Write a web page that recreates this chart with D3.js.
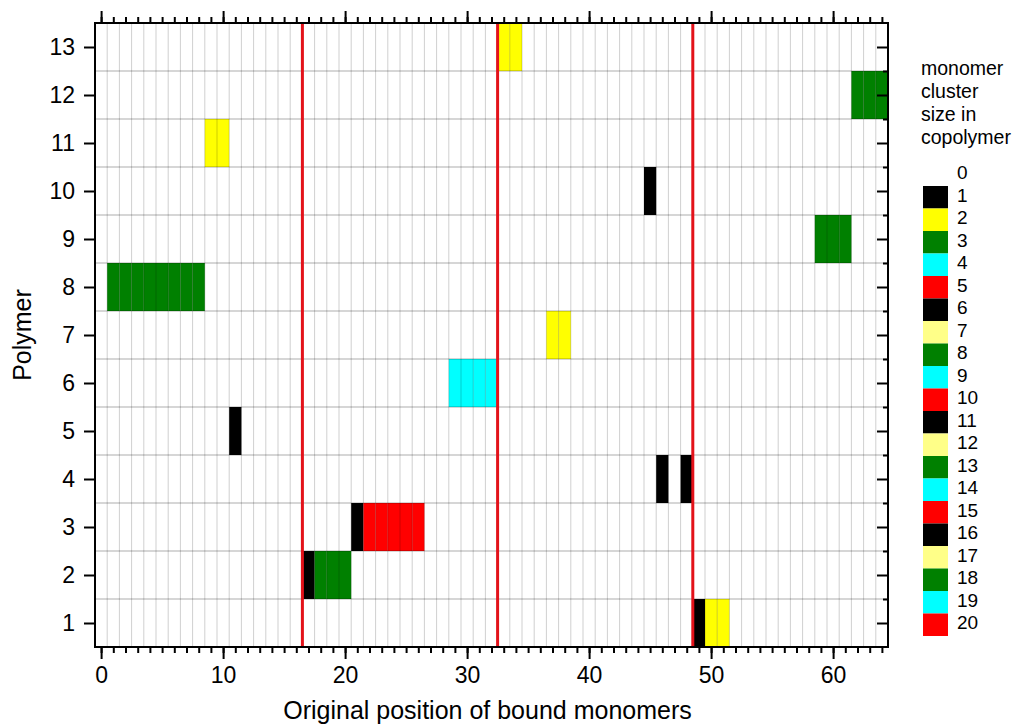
<!DOCTYPE html>
<html>
<head>
<meta charset="utf-8">
<script src="https://cdn.jsdelivr.net/npm/d3@7"></script>
<style>
  html, body { margin: 0; padding: 0; background: #ffffff; }
  svg { display: block; font-family: "Liberation Sans", Arial, sans-serif; }
</style>
</head>
<body>
<svg id="chart" width="1016" height="724"></svg>
<script>
// Bound monomer clusters: polymer row, first position, cluster length
const clusterPolymer = [13, 12, 11, 10, 9, 8, 7, 6, 5, 4, 4, 3, 3, 2, 2, 1, 1];
const clusterStart   = [33, 62, 9, 45, 59, 1, 37, 29, 11, 46, 48, 21, 22, 17, 18, 49, 50];
const clusterSize    = [2, 3, 2, 1, 3, 8, 2, 4, 1, 1, 1, 1, 5, 1, 3, 1, 2];

// Block boundaries marked in red
const blockBoundaries = [16.5, 32.5, 48.5];

// Axis ticks
const polymerTicks = [1, 2, 3, 4, 5, 6, 7, 8, 9, 10, 11, 12, 13];
const positionMajorTicks = [0, 10, 20, 30, 40, 50, 60];

// Colour legend: cluster size -> colour
const legendLabels = ["0", "1", "2", "3", "4", "5", "6", "7", "8", "9", "10",
  "11", "12", "13", "14", "15", "16", "17", "18", "19", "20"];
const legendColors = ["#ffffff", "#000000", "#ffff00", "#008000", "#00ffff", "#ff0000",
  "#000000", "#ffff88", "#008000", "#00ffff", "#ff0000",
  "#000000", "#ffff88", "#008000", "#00ffff", "#ff0000",
  "#000000", "#ffff88", "#008000", "#00ffff", "#ff0000"];
const legendTitle = ["monomer", "cluster", "size in", "copolymer"];

const svg = d3.select("#chart");
const plot = { left: 95, right: 888, top: 23, bottom: 647 };

const x = d3.scaleLinear().domain([-0.5, 64.5]).range([plot.left, plot.right]);
const y = d3.scaleLinear().domain([0.5, 13.5]).range([plot.bottom, plot.top]);
const color = d3.scaleOrdinal().domain(legendLabels).range(legendColors);

// Expand clusters into single cells, each carrying its cluster size
const cells = [];
clusterPolymer.forEach((p, i) => {
  for (let k = 0; k < clusterSize[i]; k++) {
    cells.push({ polymer: p, position: clusterStart[i] + k, size: clusterSize[i] });
  }
});

// Cells
svg.append("g").selectAll("rect").data(cells).join("rect")
  .attr("x", d => x(d.position - 0.5))
  .attr("y", d => y(d.polymer + 0.5))
  .attr("width", d => x(d.position + 0.5) - x(d.position - 0.5))
  .attr("height", d => y(d.polymer - 0.5) - y(d.polymer + 0.5))
  .attr("fill", d => color(String(d.size)));

// Grid along cell boundaries
const vGrid = d3.range(-0.5, 64.6, 1).slice(1, -1);
const hGrid = d3.range(0.5, 13.6, 1).slice(1, -1);
const grid = svg.append("g");
grid.selectAll("line.v").data(vGrid).join("line")
  .attr("class", "v")
  .attr("x1", d => x(d)).attr("x2", d => x(d))
  .attr("y1", plot.top).attr("y2", plot.bottom)
  .attr("stroke", "rgba(0,0,0,0.19)").attr("stroke-width", 1);
grid.selectAll("line.h").data(hGrid).join("line")
  .attr("class", "h")
  .attr("y1", d => y(d)).attr("y2", d => y(d))
  .attr("x1", plot.left).attr("x2", plot.right)
  .attr("stroke", "rgba(0,0,0,0.32)").attr("stroke-width", 1);

// Red block boundaries
svg.append("g").selectAll("line").data(blockBoundaries).join("line")
  .attr("x1", d => x(d)).attr("x2", d => x(d))
  .attr("y1", plot.top).attr("y2", plot.bottom)
  .attr("stroke", "#e3121a").attr("stroke-width", 3);

// Axes
const allPositions = d3.range(0, 65);
function styleAxis(g) {
  g.select(".domain").remove();
  g.selectAll(".tick line").attr("stroke", "#000").attr("stroke-width", 2);
  g.selectAll(".tick text").attr("fill", "#000").attr("font-size", 23)
    .attr("font-family", "'Liberation Sans', Arial, sans-serif");
}

svg.append("g").attr("transform", `translate(0,${plot.bottom})`)
  .call(d3.axisBottom(x).tickValues(allPositions).tickSize(6).tickFormat(""))
  .call(styleAxis);
svg.append("g").attr("transform", `translate(0,${plot.bottom})`)
  .call(d3.axisBottom(x).tickValues(positionMajorTicks).tickSize(12).tickPadding(8).tickFormat(d3.format("d")))
  .call(styleAxis);
svg.append("g").attr("transform", `translate(0,${plot.top})`)
  .call(d3.axisTop(x).tickValues(allPositions).tickSize(6).tickFormat(""))
  .call(styleAxis);
svg.append("g").attr("transform", `translate(0,${plot.top})`)
  .call(d3.axisTop(x).tickValues(positionMajorTicks).tickSize(12).tickFormat(""))
  .call(styleAxis);
svg.append("g").attr("transform", `translate(${plot.left},0)`)
  .call(d3.axisLeft(y).tickValues(polymerTicks).tickSize(11).tickPadding(9).tickFormat(d3.format("d")))
  .call(styleAxis);
svg.append("g").attr("transform", `translate(${plot.right},0)`)
  .call(d3.axisRight(y).tickValues(polymerTicks).tickSize(-11).tickFormat(""))
  .call(styleAxis);
svg.append("g").attr("transform", `translate(${plot.right},0)`)
  .call(d3.axisRight(y).tickValues(hGrid).tickSize(-5).tickFormat(""))
  .call(styleAxis);

// Frame
svg.append("rect")
  .attr("x", plot.left).attr("y", plot.top)
  .attr("width", plot.right - plot.left).attr("height", plot.bottom - plot.top)
  .attr("fill", "none").attr("stroke", "#000").attr("stroke-width", 2);

// Axis titles
svg.append("text")
  .attr("x", (plot.left + plot.right) / 2 - 4).attr("y", 719)
  .attr("text-anchor", "middle").attr("font-size", 25).attr("fill", "#000")
  .text("Original position of bound monomers");
svg.append("text")
  .attr("transform", `translate(31,${(plot.top + plot.bottom) / 2}) rotate(-90)`)
  .attr("text-anchor", "middle").attr("font-size", 25).attr("fill", "#000")
  .text("Polymer");

// Legend
const legend = svg.append("g");
legend.selectAll("text.title").data(legendTitle).join("text")
  .attr("class", "title")
  .attr("x", 921).attr("y", (d, i) => 75 + i * 23)
  .attr("font-size", 19.5).attr("fill", "#000")
  .text(d => d);

const ly = d3.scaleBand().domain(legendLabels).range([163.5, 636]);
legend.selectAll("rect").data(legendLabels).join("rect")
  .attr("x", 923).attr("y", d => ly(d))
  .attr("width", 25).attr("height", ly.bandwidth())
  .attr("fill", d => color(d));
legend.selectAll("text.lab").data(legendLabels).join("text")
  .attr("class", "lab")
  .attr("x", 957).attr("y", d => ly(d) + ly.bandwidth() / 2 - 2)
  .attr("dy", "0.35em")
  .attr("font-size", 19).attr("fill", "#000")
  .text(d => d);
</script>
</body>
</html>
